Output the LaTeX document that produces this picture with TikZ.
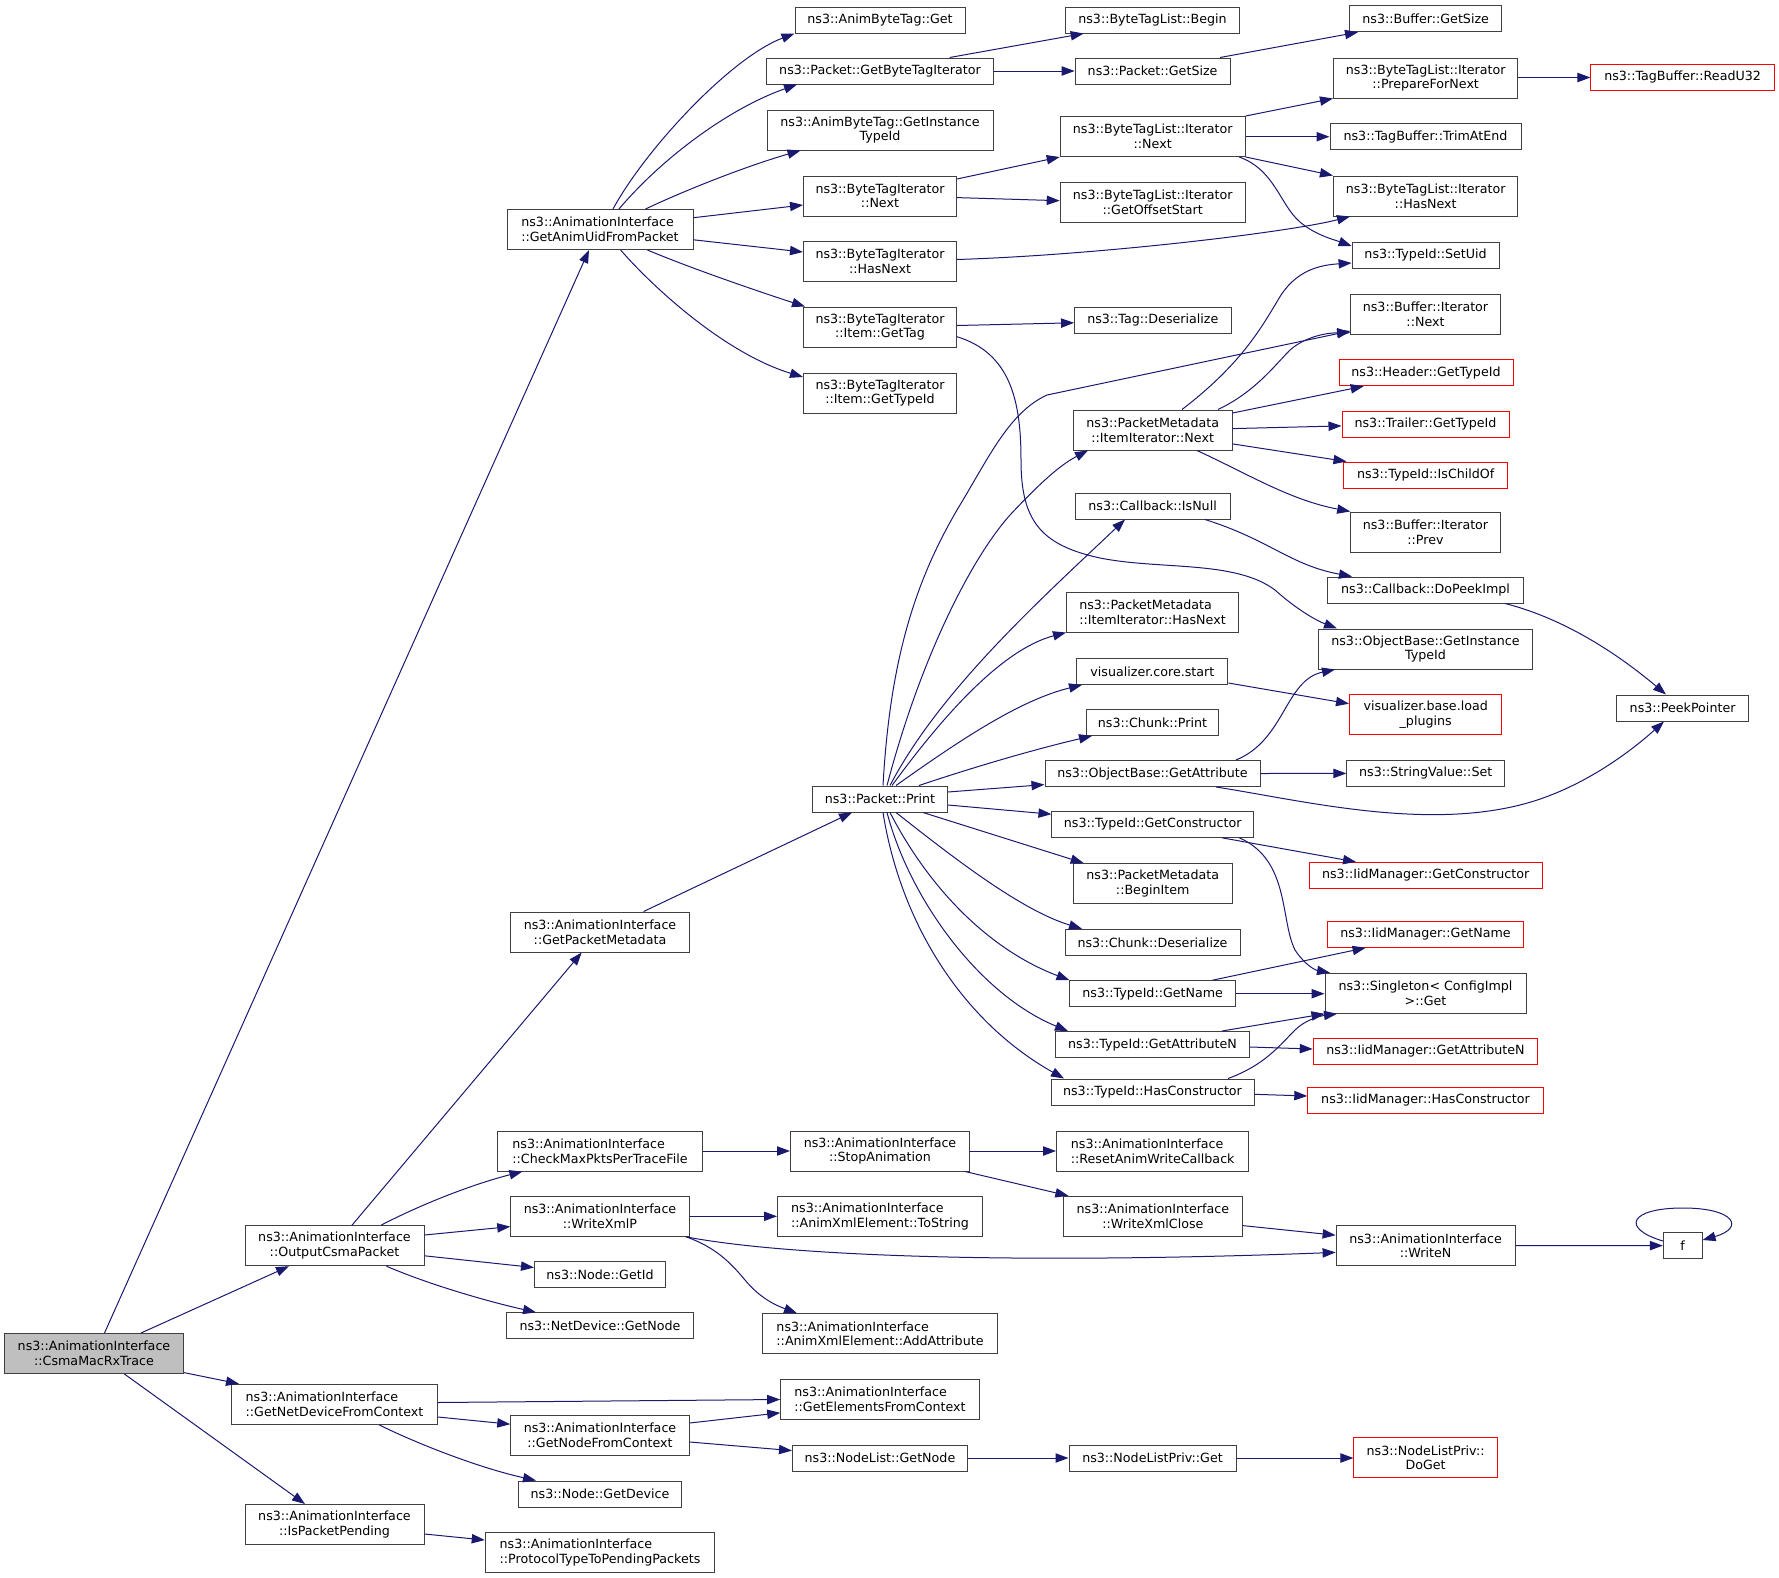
\documentclass[tikz,border=0pt]{standalone}
\usepackage{fontspec}
\setmainfont{DejaVu Sans}
\usetikzlibrary{arrows.meta}
\definecolor{edgecol}{RGB}{25,25,112}
\definecolor{boxcol}{RGB}{64,64,64}
\definecolor{hl}{RGB}{191,191,191}
\begin{document}
\begin{tikzpicture}[x=0.75pt,y=-0.75pt,
  box/.style={draw=boxcol, line width=0.75pt, fill=white, inner sep=0pt, align=center,
    font=\fontsize{9.5}{11}\selectfont},
  wd/.style={minimum width=#1*0.75pt},
  s1/.style={box, minimum height=19.5pt},
  s2/.style={box, minimum height=30pt},
  lft/.style={align=left},
  rd/.style={draw=red},
  e/.style={draw=edgecol, line width=0.75pt, -{Triangle[length=9.75pt,width=7pt]}}]
\useasboundingbox (0,0) rectangle (1779,1578);

% column 0-2
\node[s2,wd=179,fill=hl] (C) at (94,1353.5) {ns3::AnimationInterface\\::CsmaMacRxTrace};
\node[s2,wd=186,lft] (G) at (600,229.5) {ns3::AnimationInterface\\::GetAnimUidFromPacket};
\node[s2,wd=178.5] (PM) at (600,932) {ns3::AnimationInterface\\::GetPacketMetadata};
\node[s2,wd=179] (OCP) at (334.5,1245.7) {ns3::AnimationInterface\\::OutputCsmaPacket};
\node[s2,wd=206,lft] (GND) at (334.5,1404.3) {ns3::AnimationInterface\\::GetNetDeviceFromContext};
\node[s2,wd=179] (IPP) at (334.5,1524.5) {ns3::AnimationInterface\\::IsPacketPending};
\node[s2,wd=204.5,lft] (CMP) at (600,1151) {ns3::AnimationInterface\\::CheckMaxPktsPerTraceFile};
\node[s2,wd=178.5] (WXP) at (600,1216.3) {ns3::AnimationInterface\\::WriteXmlP};
\node[s1,wd=131] (NGI) at (600,1274.8) {ns3::Node::GetId};
\node[s1,wd=187] (NDG) at (600,1325.8) {ns3::NetDevice::GetNode};
\node[s2,wd=178.5] (GNC) at (600,1435.2) {ns3::AnimationInterface\\::GetNodeFromContext};
\node[s1,wd=162.5] (NGD) at (600,1494) {ns3::Node::GetDevice};
\node[s2,wd=229.5,lft] (PTP) at (600,1552.7) {ns3::AnimationInterface\\::ProtocolTypeToPendingPackets};

% column 3
\node[s1,wd=170] (ABG) at (880,20) {ns3::AnimByteTag::Get};
\node[s1,wd=227] (GBTI) at (880,71) {ns3::Packet::GetByteTagIterator};
\node[s2,wd=226] (ABGI) at (880,130) {ns3::AnimByteTag::GetInstance\\TypeId};
\node[s2,wd=153] (BTIN) at (880,196) {ns3::ByteTagIterator\\::Next};
\node[s2,wd=153] (BTIH) at (880,261.5) {ns3::ByteTagIterator\\::HasNext};
\node[s2,wd=153] (BTIG) at (880,327) {ns3::ByteTagIterator\\::Item::GetTag};
\node[s2,wd=153] (BTIT) at (880,393) {ns3::ByteTagIterator\\::Item::GetTypeId};
\node[s1,wd=135] (PP) at (880,799) {ns3::Packet::Print};
\node[s2,wd=179] (SA) at (880,1151) {ns3::AnimationInterface\\::StopAnimation};
\node[s2,wd=205,lft] (TS) at (880,1216.3) {ns3::AnimationInterface\\::AnimXmlElement::ToString};
\node[s2,wd=234.6,lft] (AA) at (880,1333.7) {ns3::AnimationInterface\\::AnimXmlElement::AddAttribute};
\node[s2,wd=198.6,lft] (GEC) at (880,1399.4) {ns3::AnimationInterface\\::GetElementsFromContext};
\node[s1,wd=175] (NLG) at (880,1458) {ns3::NodeList::GetNode};

% column 4
\node[s1,wd=173.6] (BTLB) at (1152.5,20) {ns3::ByteTagList::Begin};
\node[s1,wd=155] (PGS) at (1152.6,71) {ns3::Packet::GetSize};
\node[s2,wd=185] (BTLN) at (1152.7,136.5) {ns3::ByteTagList::Iterator\\::Next};
\node[s2,wd=185] (BTLO) at (1152.7,202.5) {ns3::ByteTagList::Iterator\\::GetOffsetStart};
\node[s1,wd=156.5] (TD) at (1152.8,320.5) {ns3::Tag::Deserialize};
\node[s2,wd=158.6] (PMIN) at (1152.7,430) {ns3::PacketMetadata\\::ItemIterator::Next};
\node[s1,wd=155] (CBN) at (1152.6,506) {ns3::Callback::IsNull};
\node[s2,wd=172,lft] (PMIH) at (1152.5,612) {ns3::PacketMetadata\\::ItemIterator::HasNext};
\node[s1,wd=151] (VCS) at (1152.4,671.4) {visualizer.core.start};
\node[s1,wd=132] (CP) at (1152.5,722.4) {ns3::Chunk::Print};
\node[s1,wd=215] (OGA) at (1152.5,773.5) {ns3::ObjectBase::GetAttribute};
\node[s1,wd=201.5] (TGC) at (1152.7,824.3) {ns3::TypeId::GetConstructor};
\node[s2,wd=158.6] (PMB) at (1152.7,883.6) {ns3::PacketMetadata\\::BeginItem};
\node[s1,wd=175] (CD) at (1152.5,942.3) {ns3::Chunk::Deserialize};
\node[s1,wd=165.5] (TGN) at (1152.7,993.7) {ns3::TypeId::GetName};
\node[s1,wd=193.6] (TGA) at (1152.5,1044.5) {ns3::TypeId::GetAttributeN};
\node[s1,wd=203] (THC) at (1152.5,1092) {ns3::TypeId::HasConstructor};
\node[s2,wd=192.4,lft] (RAW) at (1152.7,1151) {ns3::AnimationInterface\\::ResetAnimWriteCallback};
\node[s2,wd=179] (WXC) at (1152.9,1216.3) {ns3::AnimationInterface\\::WriteXmlClose};
\node[s1,wd=167] (NLPG) at (1152.5,1458) {ns3::NodeListPriv::Get};

% column 5
\node[s1,wd=151.5] (BGS) at (1425.7,18.7) {ns3::Buffer::GetSize};
\node[s2,wd=184.5] (PFN) at (1425.7,78) {ns3::ByteTagList::Iterator\\::PrepareForNext};
\node[s1,wd=191] (TAE) at (1425.5,136.7) {ns3::TagBuffer::TrimAtEnd};
\node[s2,wd=184.5] (BTLH) at (1425.7,196) {ns3::ByteTagList::Iterator\\::HasNext};
\node[s1,wd=147] (SU) at (1425.6,255) {ns3::TypeId::SetUid};
\node[s2,wd=149.6] (BIN) at (1425.5,314) {ns3::Buffer::Iterator\\::Next};
\node[s1,wd=174,rd] (HGT) at (1426,372.7) {ns3::Header::GetTypeId};
\node[s1,wd=167,rd] (TRG) at (1425.5,424.3) {ns3::Trailer::GetTypeId};
\node[s1,wd=164,rd] (ICO) at (1425.7,475) {ns3::TypeId::IsChildOf};
\node[s2,wd=149.6] (BIP) at (1425.5,532) {ns3::Buffer::Iterator\\::Prev};
\node[s1,wd=196.4] (CDP) at (1425.5,590) {ns3::Callback::DoPeekImpl};
\node[s2,wd=214] (OGI) at (1425.5,649) {ns3::ObjectBase::GetInstance\\TypeId};
\node[s2,wd=152.4,rd] (VBL) at (1425.7,714.5) {visualizer.base.load\\\_plugins};
\node[s1,wd=157.6] (SVS) at (1425.7,773.4) {ns3::StringValue::Set};
\node[s1,wd=232.7,rd] (IGC) at (1425.7,875.4) {ns3::IidManager::GetConstructor};
\node[s1,wd=196.4,rd] (IGN) at (1425.5,934.3) {ns3::IidManager::GetName};
\node[s2,wd=201] (SG) at (1425.5,993.3) {ns3::Singleton< ConfigImpl\\>::Get};
\node[s1,wd=224.6,rd] (IGA) at (1425.5,1051) {ns3::IidManager::GetAttributeN};
\node[s1,wd=235.4,rd] (IHC) at (1425.5,1100) {ns3::IidManager::HasConstructor};
\node[s2,wd=179] (WN) at (1425.6,1245.7) {ns3::AnimationInterface\\::WriteN};
\node[s2,wd=143.3,rd] (DG) at (1425.6,1457.7) {ns3::NodeListPriv::\\DoGet};

% column 6
\node[s1,wd=183.3,rd] (RU) at (1682.6,77.5) {ns3::TagBuffer::ReadU32};
\node[s1,wd=131.3] (PKP) at (1682.6,708) {ns3::PeekPointer};
\node[s1,wd=38.7] (F) at (1682.7,1245.6) {f};

% edges from CsmaMacRxTrace
\draw[e] (C.north -| 104.5,0) -- (G.south -| 589,0);
\draw[e] (C.north -| 141,0) -- (OCP.south -| 289,0);
\draw[e] (C.east |- 0,1372.6) -- (GND.north -| 239,0);
\draw[e] (C.south -| 124.4,0) -- (IPP.north -| 305,0);

% from GetAnimUidFromPacket
\draw[e] (G.north -| 613,0) .. controls (645,150) and (730,58) .. (ABG.south west);
\draw[e] (G.north -| 619,0) .. controls (663,157) and (730,108) .. (GBTI.south -| 797,0);
\draw[e] (G.north -| 645.5,0) .. controls (690,188) and (750,165) .. (ABGI.south -| 800.5,0);
\draw[e] (G.east |- 0,217.7) -- (BTIN.west |- 0,205);
\draw[e] (G.east |- 0,239.8) -- (BTIH.west |- 0,252);
\draw[e] (G.south -| 647.4,0) .. controls (690,268) and (760,292) .. (BTIG.north -| 805,0);
\draw[e] (G.south -| 620.6,0) .. controls (660,295) and (730,355) .. (BTIT.west |- 0,377);

% column 3 -> 4
\draw[e] (GBTI.north -| 949.7,0) -- (BTLB.south -| 1083.7,0);
\draw[e] (GBTI.east) -- (PGS.west);
\draw[e] (PGS.north -| 1220,0) -- (BGS.south -| 1358,0);
\draw[e] (BTIN.east |- 0,179) -- (BTLN.south west);
\draw[e] (BTIN.east |- 0,197.6) -- (BTLO.west |- 0,200.7);
\draw[e] (BTIH.east |- 0,259.5) .. controls (1100,255) and (1290,232) .. (BTLH.south -| 1350,0);
\draw[e] (BTIG.east |- 0,325.5) -- (TD.west |- 0,322.8);
\draw[e] (BTIG.east |- 0,336.7) .. controls (1010,353) and (1021,400) .. (1021,460)
  .. controls (1021,520) and (1040,545) .. (1100,558)
  .. controls (1160,570) and (1235,560) .. (1275,590)
  .. controls (1295,608) and (1315,620) .. (OGI.north -| 1337,0);

% ByteTagList::Iterator::Next
\draw[e] (BTLN.north east) -- (PFN.south west);
\draw[e] (BTLN.east |- 0,136.7) -- (TAE.west);
\draw[e] (BTLN.south east) -- (BTLH.north west);
\draw[e] (BTLN.south -| 1239.3,0) .. controls (1275,170) and (1280,205) .. (1300,222)
  .. controls (1315,235) and (1335,240) .. (SU.west |- 0,246);
\draw[e] (PFN.east |- RU.west) -- (RU.west);

% Packet::Print fan-out
\draw[e] (PP.north -| 883,0) .. controls (890,660) and (915,580) .. (960,505)
  .. controls (990,455) and (1010,412) .. (1047,395) -- (BIN.west |- 0,331);
\draw[e] (PP.north -| 887,0) .. controls (920,660) and (970,560) .. (1010,515)
  .. controls (1040,483) and (1060,465) .. (PMIN.south -| 1088,0);
\draw[e] (PP.north -| 890,0) .. controls (940,690) and (1040,600) .. (CBN.south -| 1125,0);
\draw[e] (PP.north -| 892,0) .. controls (940,720) and (1000,650) .. (PMIH.south west);
\draw[e] (PP.north -| 896,0) .. controls (960,740) and (1020,700) .. (VCS.south -| 1082,0);
\draw[e] (PP.north -| 919,0) .. controls (980,765) and (1040,748) .. (CP.south -| 1092,0);
\draw[e] (PP.east |- 0,792) -- (OGA.west |- 0,784.6);
\draw[e] (PP.east |- 0,805) -- (TGC.west |- 0,814.2);
\draw[e] (PP.south -| 923,0) -- (PMB.north -| 1083.7,0);
\draw[e] (PP.south -| 896,0) .. controls (950,855) and (1020,910) .. (CD.north -| 1082,0);
\draw[e] (PP.south -| 890,0) .. controls (930,890) and (990,950) .. (TGN.north west);
\draw[e] (PP.south -| 887,0) .. controls (910,900) and (980,995) .. (TGA.north -| 1068,0);
\draw[e] (PP.south -| 883,0) .. controls (900,920) and (960,1020) .. (THC.north -| 1064,0);

% PacketMetadata::ItemIterator::Next
\draw[e] (PMIN.north -| 1182,0) .. controls (1240,365) and (1260,330) .. (1278,300)
  .. controls (1295,270) and (1320,265) .. (SU.west |- 0,263);
\draw[e] (PMIN.north -| 1218,0) .. controls (1255,392) and (1275,365) .. (1290,350)
  .. controls (1305,337) and (1325,333) .. (BIN.west |- 0,332.5);
\draw[e] (PMIN.east |- 0,413) -- (HGT.south -| 1363.7,0);
\draw[e] (PMIN.east |- 0,428.6) -- (TRG.west |- 0,425.9);
\draw[e] (PMIN.east |- 0,443.9) -- (ICO.north -| 1346.5,0);
\draw[e] (PMIN.south -| 1197,0) .. controls (1250,475) and (1290,500) .. (BIP.north west);

% callbacks and object base
\draw[e] (CBN.south -| 1205,0) .. controls (1270,540) and (1290,565) .. (CDP.north -| 1352,0);
\draw[e] (CDP.south -| 1505,0) .. controls (1570,620) and (1625,660) .. (PKP.north -| 1666,0);
\draw[e] (OGA.north -| 1236,0) .. controls (1285,740) and (1285,680) .. (OGI.south -| 1335,0);
\draw[e] (OGA.east) -- (SVS.west);
\draw[e] (OGA.south -| 1216,0) .. controls (1300,800) and (1420,830) .. (1520,805)
  .. controls (1580,790) and (1630,752) .. (PKP.south -| 1664,0);
\draw[e] (VCS.east |- 0,683) -- (VBL.west |- 0,703.7);

% TypeId
\draw[e] (TGC.south -| 1222,0) -- (IGC.north -| 1356,0);
\draw[e] (TGC.south -| 1239.3,0) .. controls (1290,860) and (1280,920) .. (1295,950)
  .. controls (1305,965) and (1315,970) .. (SG.north -| 1330,0);
\draw[e] (TGN.north -| 1212.5,0) -- (IGN.south -| 1365.6,0);
\draw[e] (TGN.east) -- (TGN.east -| SG.west);
\draw[e] (TGA.north -| 1222,0) -- (SG.south west);
\draw[e] (TGA.east |- 0,1047) -- (IGA.west |- 0,1049);
\draw[e] (THC.north -| 1228,0) .. controls (1265,1065) and (1280,1045) .. (1295,1030)
  .. controls (1305,1020) and (1320,1016) .. (SG.south -| 1337,0);
\draw[e] (THC.east |- 0,1094.3) -- (IHC.west |- 0,1096);

% lower part
\draw[e] (PM.north -| 643.6,0) -- (PP.south -| 852,0);
\draw[e] (OCP.north -| 352,0) -- (PM.south -| 581.7,0);
\draw[e] (OCP.north -| 381,0) .. controls (420,1205) and (470,1185) .. (CMP.south -| 522.4,0);
\draw[e] (OCP.east |- 0,1235) -- (WXP.west |- 0,1226.6);
\draw[e] (OCP.east |- 0,1255.8) -- (NGI.west |- 0,1267.5);
\draw[e] (OCP.south -| 386.5,0) .. controls (430,1285) and (490,1302) .. (NDG.north -| 536,0);
\draw[e] (CMP.east) -- (SA.west);
\draw[e] (SA.east) -- (RAW.west);
\draw[e] (SA.south -| 965,0) -- (WXC.north -| 1068.4,0);
\draw[e] (WXP.east) -- (TS.west);
\draw[e] (WXP.south -| 686,0) .. controls (780,1255) and (1000,1265) .. (WN.west |- 0,1252.4);
\draw[e] (WXP.south -| 686,0) .. controls (715,1247) and (730,1262) .. (745,1280)
  .. controls (760,1298) and (775,1305) .. (AA.north -| 797,0);
\draw[e] (WXC.east |- 0,1225.6) -- (WN.west |- 0,1235.2);
\draw[e] (WN.east) -- (F.west);
\draw[e] (F.west |- 0,1241) .. controls (1620,1228) and (1630,1208) .. (1683,1208)
  .. controls (1735,1208) and (1745,1228) .. (F.east |- 0,1240);
\draw[e] (GND.east |- 0,1402.5) -- (GEC.west |- 0,1399.5);
\draw[e] (GND.east |- 0,1417) -- (GNC.west |- 0,1424.2);
\draw[e] (GND.south -| 379,0) .. controls (420,1445) and (480,1468) .. (NGD.north -| 536,0);
\draw[e] (GNC.east |- 0,1423) -- (GEC.west |- 0,1412.8);
\draw[e] (GNC.east |- 0,1442) -- (NLG.west |- 0,1450.6);
\draw[e] (NLG.east) -- (NLPG.west);
\draw[e] (NLPG.east) -- (NLPG.east -| DG.west);
\draw[e] (IPP.east |- 0,1534) -- (PTP.west |- 0,1540);
\end{tikzpicture}
\end{document}
